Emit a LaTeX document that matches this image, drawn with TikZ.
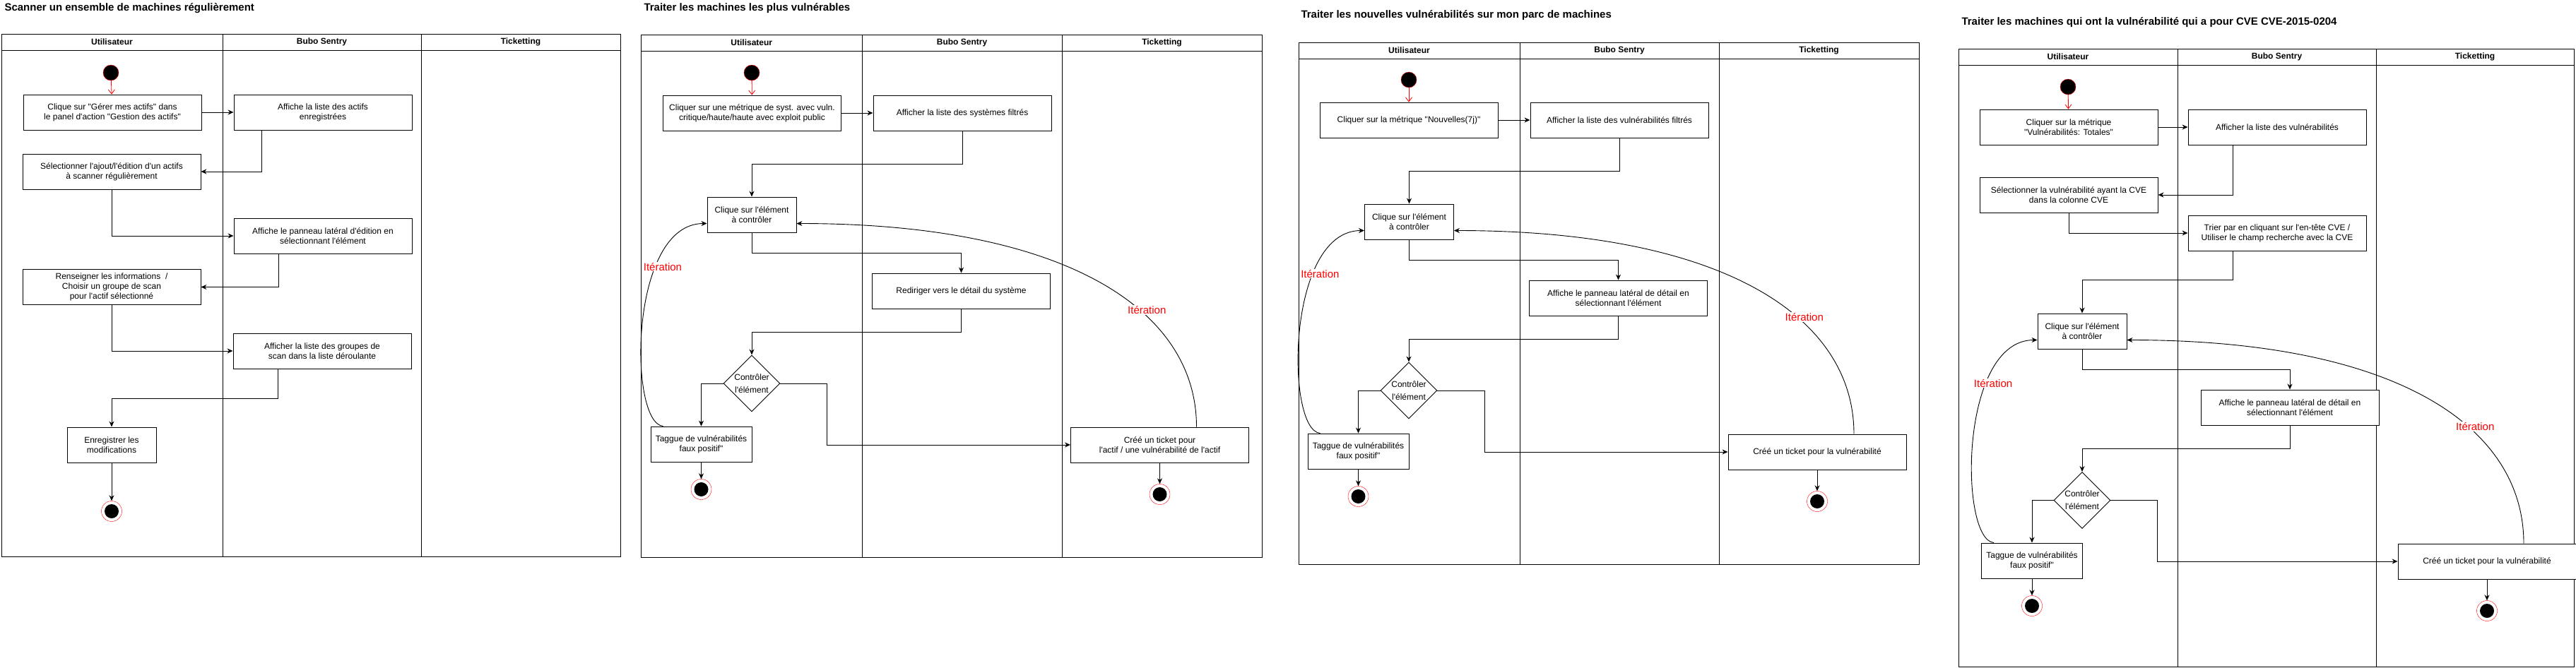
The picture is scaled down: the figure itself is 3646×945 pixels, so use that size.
\documentclass[tikz,border=0pt]{standalone}
\usepackage{fontspec}
\setmainfont{Liberation Sans}[Ligatures=TeXOff]
\usepackage{tikz}
\usetikzlibrary{arrows.meta, shapes.geometric, calc}
\newcommand{\couloirs}[7]{%
  \draw[lane] (#2,#6) rectangle (#5,#7);
  \draw[lane] (#2,#6+23) -- (#5,#6+23);
  \draw[lane] (#3,#6) -- (#3,#7) (#4,#6) -- (#4,#7);
  \node[lanehead] (#1u) at ({(#2+#3)/2},#6+11.5) {Utilisateur};
  \node[lanehead] (#1s) at ({(#3+#4)/2},#6+11.5) {Bubo Sentry};
  \node[lanehead] (#1t) at ({(#4+#5)/2},#6+11.5) {Ticketting};
}

\begin{document}
\begin{tikzpicture}[x=1pt, y=-1pt,
    lane/.style={line width=1pt},
    lanehead/.style={font=\fontsize{12}{14}\selectfont\bfseries},
    titre/.style={anchor=west, font=\fontsize{15}{18}\selectfont\bfseries},
    etape/.style={draw, fill=white, line width=0.9pt, minimum width=252pt, minimum height=50pt, align=center, inner sep=2pt, font=\fontsize{12}{14}\selectfont},
    debut/.style={circle, fill=black, draw=red, minimum size=22pt, inner sep=0pt},
    fin/.style={circle, draw=red, fill=white, minimum size=29pt, inner sep=0pt, path picture={\fill[black] (path picture bounding box.center) circle (10pt);}},
    choix/.style={diamond, draw, fill=white, line width=0.9pt, minimum width=80pt, minimum height=80pt, inner sep=0pt},
    choixtxt/.style={align=center, font=\fontsize{12}{18}\selectfont},
    fleche/.style={-{Stealth[length=8pt,width=7pt]}, line width=0.9pt},
    depart/.style={red, line width=0.8pt, -{Straight Barb[length=6pt,width=9pt]}},
    iter/.style={text=red, fill=white, inner sep=1pt, font=\fontsize{15}{17}\selectfont}]

  \fill[white] (0,0) rectangle (3646,945);
  \useasboundingbox (0,0) rectangle (3646,945);

  % scanner un ensemble de machines
  \node[titre] (t1) at (3,12) {Scanner un ensemble de machines régulièrement};
  \couloirs{c1}{2}{315}{596}{878}{48}{788}
  \node[debut] (debut1) at (157,103) {};
  \node[etape] (clic) at (159,159) {Clique sur "Gérer mes actifs" dans\\le panel d'action "Gestion des actifs"};
  \node[etape] (liste) at (457,159) {Affiche la liste des actifs\\enregistrées};
  \node[etape] (select) at (158,243) {Sélectionner l'ajout/l'édition d'un actifs\\à scanner régulièrement};
  \node[etape] (panneau) at (457,334) {Affiche le panneau latéral d'édition en\\sélectionnant l'élément};
  \node[etape] (infos) at (158,406.5) {Renseigner les informations \ /\\Choisir un groupe de scan\\pour l'actif sélectionné};
  \node[etape] (groupes) at (456,497) {Afficher la liste des groupes de\\scan dans la liste déroulante};
  \node[etape, minimum width=126pt] (enreg) at (158,630) {Enregistrer les\\modifications};
  \node[fin] (fin1) at (158,724) {};

  \draw[depart] (debut1) -- (clic);
  \draw[fleche] (clic) -- (liste);
  \draw[fleche] ([xshift=-87pt]liste.south) |- (select.east);
  \draw[fleche] (select.south) |- (panneau.west);
  \draw[fleche] ([xshift=-63pt]panneau.south) |- (infos.east);
  \draw[fleche] (infos.south) |- (groupes.west);
  \draw[fleche] ([xshift=-63pt]groupes.south) -- ++(0,42) -| (enreg.north);
  \draw[fleche] (enreg) -- (fin1);

  % machines les plus vulnerables
  \node[titre] (t2) at (908,12) {Traiter les machines les plus vulnérables};
  \couloirs{c2}{907.5}{1220}{1503}{1786}{49}{789}
  \node[debut] (debut2) at (1064,103) {};
  \node[etape] (metrique) at (1064.5,160) {Cliquer sur une métrique de syst. avec vuln.\\critique/haute/haute avec exploit public};
  \node[etape] (systemes) at (1362,160) {Afficher la liste des systèmes filtrés};
  \node[etape, minimum width=126pt] (elem2) at (1064,304) {Clique sur l'élément\\à contrôler};
  \node[etape] (detail) at (1360.5,412) {Rediriger vers le détail du système};
  \node[choix, label={[choixtxt]center:{Contrôler\\l'élément}}] (ctrl2) at (1064,543) {};
  \node[etape, minimum width=143pt] (tag2) at (992.5,629) {Taggue de vulnérabilités\\faux positif"};
  \node[etape] (ticket2) at (1641.5,630) {Créé un ticket pour\\l'actif / une vulnérabilité de l'actif};
  \node[fin] (fin2a) at (992.5,693) {};
  \node[fin] (fin2b) at (1641.5,700) {};

  \draw[depart] (debut2) -- (metrique);
  \draw[fleche] (metrique) -- (systemes);
  \draw[fleche] (systemes.south) -- ++(0,47) -| (elem2.north);
  \draw[fleche] (elem2.south) -- ++(0,29) -| (detail.north);
  \draw[fleche] (detail.south) -- ++(0,33) -| (ctrl2.north);
  \draw[fleche] (ctrl2.west) -| (tag2.north);
  \draw[fleche] (ctrl2.east) -- ++(66,0) |- (ticket2.west);
  \draw[fleche] (tag2) -- (fin2a);
  \draw[fleche] (ticket2) -- (fin2b);
  \draw[fleche] ([xshift=18pt]tag2.north west) .. controls +(-49,-4) and +(-111,0) .. ([yshift=-12.5pt]elem2.west) node[iter, pos=0.7, xshift=9pt] {Itération};
  \draw[fleche] ([xshift=52pt]ticket2.north) .. controls +(0,-165) and +(383,0) .. ([yshift=-12.5pt]elem2.east) node[iter, pos=0.38, xshift=10pt] {Itération};

  % nouvelles vulnerabilites
  \node[titre] (t3) at (1838,22) {Traiter les nouvelles vulnérabilités sur mon parc de machines};
  \couloirs{c3}{1838}{2151}{2433}{2716}{60}{799}
  \node[debut] (debut3) at (1994,113) {};
  \node[etape] (nouvelles) at (1994,170) {Cliquer sur la métrique "Nouvelles(7j)"};
  \node[etape] (filtres) at (2292,170) {Afficher la liste des vulnérabilités filtrés};
  \node[etape, minimum width=126pt] (elem3) at (1994.5,314) {Clique sur l'élément\\à contrôler};
  \node[etape] (lateral3) at (2290.5,422) {Affiche le panneau latéral de détail en\\sélectionnant l'élément};
  \node[choix, label={[choixtxt]center:{Contrôler\\l'élément}}] (ctrl3) at (1994,553) {};
  \node[etape, minimum width=143pt] (tag3) at (1922.5,639) {Taggue de vulnérabilités\\faux positif"};
  \node[etape] (ticket3) at (2572,640) {Créé un ticket pour la vulnérabilité};
  \node[fin] (fin3a) at (1922.5,703) {};
  \node[fin] (fin3b) at (2572,710) {};

  \draw[depart] (debut3) -- (nouvelles);
  \draw[fleche] (nouvelles) -- (filtres);
  \draw[fleche] (filtres.south) -- ++(0,47) -| (elem3.north);
  \draw[fleche] (elem3.south) -- ++(0,29) -| (lateral3.north);
  \draw[fleche] (lateral3.south) -- ++(0,33) -| (ctrl3.north);
  \draw[fleche] (ctrl3.west) -| (tag3.north);
  \draw[fleche] (ctrl3.east) -- ++(67,0) |- (ticket3.west);
  \draw[fleche] (tag3) -- (fin3a);
  \draw[fleche] (ticket3) -- (fin3b);
  \draw[fleche] ([xshift=18pt]tag3.north west) .. controls +(-49,-4) and +(-111,0) .. ([yshift=-12.5pt]elem3.west) node[iter, pos=0.7, xshift=9pt] {Itération};
  \draw[fleche] ([xshift=52pt]ticket3.north) .. controls +(0,-165) and +(383,0) .. ([yshift=-12.5pt]elem3.east) node[iter, pos=0.38, xshift=10pt] {Itération};

  % CVE-2015-0204
  \node[titre] (t4) at (2773,32) {Traiter les machines qui ont la vulnérabilité qui a pour CVE CVE-2015-0204};
  \couloirs{c4}{2772}{3082}{3363}{3643}{69}{944}
  \node[debut] (debut4) at (2927,123) {};
  \node[etape] (totales) at (2928,180) {Cliquer sur la métrique\\"Vulnérabilités: Totales"};
  \node[etape] (vulns) at (3223,180) {Afficher la liste des vulnérabilités};
  \node[etape] (cve) at (2928,276) {Sélectionner la vulnérabilité ayant la CVE\\dans la colonne CVE};
  \node[etape] (trier) at (3223,330) {Trier par en cliquant sur l'en-tête CVE /\\Utiliser le champ recherche avec la CVE};
  \node[etape, minimum width=126pt] (elem4) at (2947,469) {Clique sur l'élément\\à contrôler};
  \node[etape] (lateral4) at (3241,577) {Affiche le panneau latéral de détail en\\sélectionnant l'élément};
  \node[choix, label={[choixtxt]center:{Contrôler\\l'élément}}] (ctrl4) at (2947,708.5) {};
  \node[etape, minimum width=143pt] (tag4) at (2876,794) {Taggue de vulnérabilités\\faux positif"};
  \node[etape] (ticket4) at (3520,795) {Créé un ticket pour la vulnérabilité};
  \node[fin] (fin4a) at (2876,858) {};
  \node[fin] (fin4b) at (3520,865) {};

  \draw[depart] (debut4) -- (totales);
  \draw[fleche] (totales) -- (vulns);
  \draw[fleche] ([xshift=-63pt]vulns.south) |- (cve.east);
  \draw[fleche] (cve.south) |- (trier.west);
  \draw[fleche] ([xshift=-63pt]trier.south) -- ++(0,41) -| (elem4.north);
  \draw[fleche] (elem4.south) -- ++(0,29) -| (lateral4.north);
  \draw[fleche] (lateral4.south) -- ++(0,33) -| (ctrl4.north);
  \draw[fleche] (ctrl4.west) -| (tag4.north);
  \draw[fleche] (ctrl4.east) -- ++(66,0) |- (ticket4.west);
  \draw[fleche] (tag4) -- (fin4a);
  \draw[fleche] (ticket4) -- (fin4b);
  \draw[fleche] ([xshift=18pt]tag4.north west) .. controls +(-49,-4) and +(-111,0) .. ([yshift=-12.5pt]elem4.west) node[iter, pos=0.7, xshift=9pt] {Itération};
  \draw[fleche] ([xshift=52pt]ticket4.north) .. controls +(0,-165) and +(383,0) .. ([yshift=-12.5pt]elem4.east) node[iter, pos=0.38, xshift=10pt] {Itération};
\end{tikzpicture}
\end{document}
